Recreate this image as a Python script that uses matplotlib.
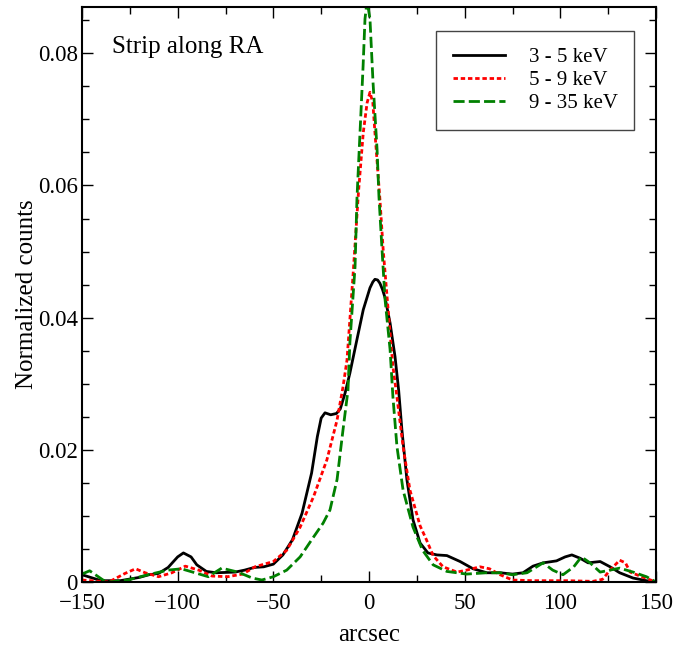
import numpy as np
import matplotlib
matplotlib.use("Agg")
import matplotlib.pyplot as plt
from matplotlib.ticker import MultipleLocator, FuncFormatter

# 3 - 5 keV
x_soft = [-150, -140, -130, -120, -115, -110, -105, -100, -97, -93, -90, -85, -80, -70, -65, -60, -55, -50,
          -45, -40, -35, -30, -27, -25, -23, -20, -17, -15, -12.5, -10, -6.3, -3, 0.5, 2, 3.1, 4.5, 5.7, 7,
          8.4, 11, 13.6, 15.5, 17.2, 19.8, 23, 26.7, 30.8, 35.5, 40.7, 47.6, 54.4, 61.6, 68.5, 75, 80.5,
          85.7, 91, 98, 102.5, 106, 110.3, 114.5, 120.8, 126, 131, 138, 145, 150]
y_soft = [0.0011, 0.0002, 0.0002, 0.0007, 0.0011, 0.0013, 0.0022, 0.0038, 0.0044, 0.0038, 0.0026, 0.0016,
          0.0014, 0.0015, 0.0018, 0.0022, 0.0023, 0.0027, 0.0041, 0.0064, 0.0104, 0.0165, 0.0220, 0.0248,
          0.0256, 0.0253, 0.0255, 0.0262, 0.0286, 0.0316, 0.0367, 0.0412, 0.0445, 0.0454, 0.0458, 0.0457,
          0.0452, 0.0443, 0.0430, 0.0392, 0.0341, 0.0290, 0.0230, 0.0155, 0.0094, 0.0059, 0.0044, 0.0041,
          0.0040, 0.0031, 0.0020, 0.0014, 0.0014, 0.0012, 0.0014, 0.0024, 0.0029, 0.0032, 0.0038, 0.0041,
          0.0036, 0.0029, 0.0031, 0.0023, 0.0014, 0.0006, 0.0002, 0.0]

# 5 - 9 keV
x_mid = [-150, -136, -127.5, -122, -117, -110, -103, -96, -89, -82, -74, -66, -59.6, -50, -43, -36, -29,
         -22, -16.7, -13.6, -11.5, -8.4, -5.5, -3, -1, 0.5, 2, 3.1, 5.7, 7.4, 10, 12.5, 14.6, 17.8, 21.4,
         26.7, 30, 33.5, 38.7, 46, 51, 58, 63, 68.5, 75, 86, 103.5, 117, 122, 126, 131, 134, 136.5, 141.6,
         150]
y_mid = [0.0003, 0.0, 0.0013, 0.0020, 0.0014, 0.0008, 0.0014, 0.0024, 0.0018, 0.0009, 0.0008, 0.0012,
         0.0023, 0.0031, 0.0048, 0.0083, 0.0129, 0.0185, 0.0245, 0.0295, 0.0336, 0.0462, 0.0590, 0.0680,
         0.0725, 0.0741, 0.0725, 0.0680, 0.0579, 0.0503, 0.0412, 0.0326, 0.0280, 0.0205, 0.0139, 0.0085,
         0.0064, 0.0040, 0.0023, 0.0015, 0.0018, 0.0023, 0.0020, 0.0011, 0.0003, 0.0002, 0.0002, 0.0001,
         0.0004, 0.0018, 0.0033, 0.0029, 0.0015, 0.0009, 0.0]

# 9 - 35 keV
x_hard = [-150, -146, -139, -136, -126, -115.5, -105, -98, -91, -84, -77, -68.5, -61, -56, -50, -43, -36,
          -29, -24, -20.4, -16.7, -13.6, -11, -10, -7.3, -6.3, -4.7, -3.1, -2.1, -1, 0.5, 2.1, 4.2, 5.2,
          6.8, 8.4, 11, 12.5, 14.6, 17.8, 23, 28, 33.5, 40.7, 51, 61.6, 68.5, 75, 82.6, 91, 96, 101.4, 107,
          111, 115.5, 120.8, 126, 131, 138, 145, 150]
y_hard = [0.0012, 0.0017, 0.0003, 0.0, 0.0003, 0.0011, 0.0018, 0.0020, 0.0014, 0.0008, 0.0021, 0.0015,
          0.0006, 0.0003, 0.0008, 0.0018, 0.0038, 0.0068, 0.0089, 0.0109, 0.0155, 0.0230, 0.0290, 0.0362,
          0.0477, 0.0580, 0.0680, 0.0780, 0.0852, 0.0880, 0.0852, 0.0756, 0.0655, 0.0583, 0.0503, 0.0427,
          0.0352, 0.0280, 0.0205, 0.0139, 0.0083, 0.0048, 0.0026, 0.0016, 0.0012, 0.0014, 0.0014, 0.0011,
          0.0014, 0.0029, 0.0018, 0.0011, 0.0023, 0.0038, 0.0029, 0.0015, 0.0018, 0.0021, 0.0015, 0.0008,
          0.0]

plt.rcParams['font.family'] = ['Liberation Serif', 'DejaVu Serif']

fig = plt.figure(figsize=(6.85, 6.5), dpi=100)
ax = fig.add_axes([0.1197, 0.1046, 0.838, 0.8846])

ax.plot(x_soft, y_soft, color='black', lw=2.0, label='3 - 5 keV')
ax.plot(x_mid, y_mid, color='#ff0000', lw=2.0, dashes=(1.6, 1.0), label='5 - 9 keV')
ax.plot(x_hard, y_hard, color='#008000', lw=2.0, dashes=(4.0, 1.5), label='9 - 35 keV')

ax.set_xlim(-150, 150)
ax.set_ylim(0, 0.087)
ax.xaxis.set_major_locator(MultipleLocator(50))
ax.xaxis.set_minor_locator(MultipleLocator(25))
ax.yaxis.set_major_locator(MultipleLocator(0.02))
ax.yaxis.set_minor_locator(MultipleLocator(0.005))
ax.yaxis.set_major_formatter(FuncFormatter(lambda v, p: '0' if abs(v) < 1e-9 else f'{v:.2f}'))
ax.xaxis.set_major_formatter(FuncFormatter(lambda v, p: f'{v:.0f}'.replace('-', '\u2212')))
ax.tick_params(which='both', direction='in', top=True, right=True, labelsize=16.5, width=1.0)
ax.tick_params(which='major', length=8)
ax.tick_params(which='minor', length=5)
ax.tick_params(axis='x', which='major', pad=8)
ax.tick_params(axis='y', which='major', pad=3)
for s in ax.spines.values():
    s.set_linewidth(1.5)

ax.set_xlabel('arcsec', fontsize=17.8, labelpad=7)
ax.set_ylabel('Normalized counts', fontsize=18, labelpad=0)
ax.text(0.053, 0.93, 'Strip along RA', transform=ax.transAxes, fontsize=18, va='center', ha='left')

leg = ax.legend(loc='upper right', bbox_to_anchor=(0.962, 0.958), fontsize=15, fancybox=False,
                framealpha=1, edgecolor='#444444', handlelength=2.5, handletextpad=1.15,
                borderpad=0.8, labelspacing=0.15, borderaxespad=0)
leg.get_frame().set_linewidth(1.0)

fig.savefig('out.png', dpi=100)
